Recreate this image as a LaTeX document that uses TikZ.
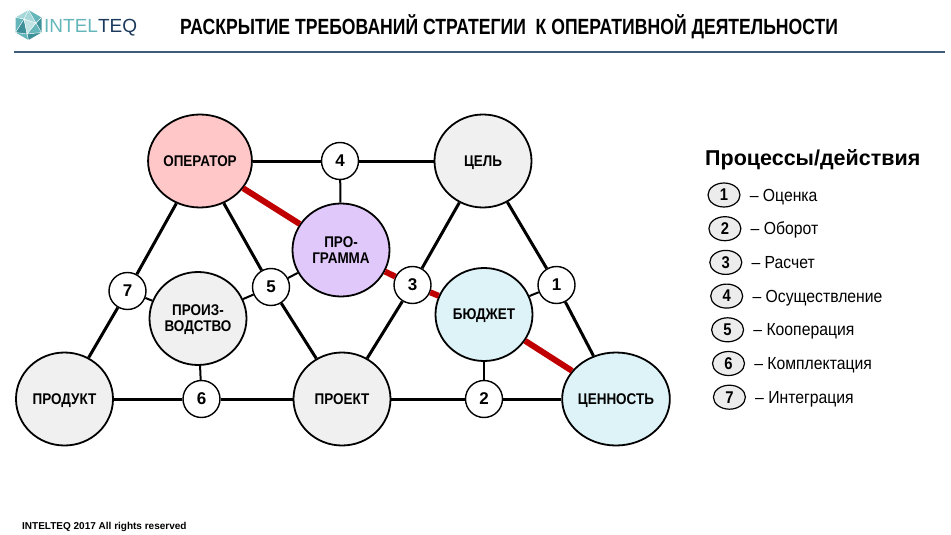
\documentclass[tikz,border=0pt]{standalone}
\usepackage{fontspec}
\setmainfont{Liberation Sans}
\newfontfamily\narrowfont[FakeStretch=0.87]{Liberation Sans}
\newfontfamily\titlefont[FakeStretch=0.8]{Liberation Sans}
\newfontfamily\keyfont[FakeStretch=0.9]{Liberation Sans}
\usetikzlibrary{shapes.geometric}

\definecolor{opcol}{RGB}{255,199,199}
\definecolor{progcol}{RGB}{224,201,250}
\definecolor{budcol}{RGB}{221,243,248}
\definecolor{graycol}{RGB}{240,240,240}
\definecolor{keycol}{RGB}{236,236,236}
\definecolor{redcol}{RGB}{192,0,0}
\definecolor{rulecol}{RGB}{62,92,122}
\definecolor{tealL}{RGB}{166,216,218}
\definecolor{tealM}{RGB}{100,182,186}
\definecolor{tealD}{RGB}{62,144,152}
\definecolor{navycol}{RGB}{28,58,92}

\tikzset{
  bignode/.style={ellipse, draw, line width=1.8pt, minimum width=97pt, minimum height=93pt, inner sep=0pt, align=center, text depth=0pt, font=\narrowfont\bfseries\fontsize{15.5}{16}\selectfont},
  numnode/.style={circle, draw, line width=1.4pt, fill=white, minimum size=37pt, inner sep=0pt, font=\bfseries\fontsize{17}{17}\selectfont},
  keynode/.style={ellipse, draw, line width=1.2pt, fill=keycol, minimum width=32pt, minimum height=24pt, inner sep=0pt, font=\narrowfont\bfseries\fontsize{17}{17}\selectfont},
  keytext/.style={anchor=base west, inner sep=0pt, font=\keyfont\fontsize{17.5}{17.5}\selectfont},
  edge/.style={line width=3pt},
  link/.style={line width=2pt},
  redline/.style={line width=6pt, redcol}
}

\begin{document}
\begin{tikzpicture}[x=1pt, y=-1pt]
    \useasboundingbox (0,0) rectangle (951,535);

    \coordinate (hT) at (28.5,10);
    \coordinate (hUR) at (41.5,17.5);
    \coordinate (hLR) at (41.5,32.5);
    \coordinate (hB) at (28.5,40);
    \coordinate (hLL) at (15.5,32.5);
    \coordinate (hUL) at (15.5,17.5);
    \coordinate (hP) at (24,19);
    \coordinate (hQ) at (36,23);
    \coordinate (hR) at (27,34);
    \fill[tealL] (hT) -- (hUL) -- (hP) -- cycle;
    \fill[tealL] (hT) -- (hP) -- (hQ) -- cycle;
    \fill[tealM] (hT) -- (hQ) -- (hUR) -- cycle;
    \fill[tealD] (hUR) -- (hQ) -- (hLR) -- cycle;
    \fill[tealM] (hLR) -- (hQ) -- (hR) -- cycle;
    \fill[tealD] (hLR) -- (hR) -- (hB) -- cycle;
    \fill[tealM] (hB) -- (hR) -- (hLL) -- cycle;
    \fill[tealD] (hLL) -- (hR) -- (hP) -- cycle;
    \fill[tealM] (hLL) -- (hP) -- (hUL) -- cycle;
    \fill[tealL!70!white] (hP) -- (hQ) -- (hR) -- cycle;
    \draw[white, line width=0.4pt] (hT) -- (hP) -- (hUL) (hP) -- (hQ) -- (hT) (hQ) -- (hUR) (hQ) -- (hLR) (hQ) -- (hR) -- (hLR) (hR) -- (hB) (hR) -- (hLL) (hR) -- (hP) -- (hLL);
    \node[anchor=base west, inner sep=0pt, font=\fontsize{19}{19}\selectfont] (logo) at (44,33) {\textcolor{tealM}{INTEL}\textcolor{navycol}{TEQ}};

    \node[anchor=base west, inner sep=0pt, font=\titlefont\bfseries\fontsize{22}{22}\selectfont] (title) at (180,35) {РАСКРЫТИЕ ТРЕБОВАНИЙ СТРАТЕГИИ\ \ К ОПЕРАТИВНОЙ ДЕЯТЕЛЬНОСТИ};
    \draw[rulecol, line width=2pt] (14,52) -- (945,52);

    \node[bignode, fill=opcol] (oper) at (200,161) {ОПЕРАТОР};
    \node[bignode, fill=graycol] (goal) at (483,161) {ЦЕЛЬ};
    \node[bignode, fill=progcol] (prog) at (341,250) {ПРО-\\ГРАММА};
    \node[bignode, fill=graycol] (prod) at (64.5,399) {ПРОДУКТ};
    \node[bignode, fill=graycol] (proizv) at (198,318.5) {ПРОИЗ-\\ВОДСТВО};
    \node[bignode, fill=graycol] (proj) at (342,399) {ПРОЕКТ};
    \node[bignode, fill=budcol] (bud) at (484,314.5) {БЮДЖЕТ};
    \node[bignode, fill=budcol] (value) at (616,399) {ЦЕННОСТЬ};

    \node[numnode] (s4) at (340,161) {4};
    \node[numnode] (s5) at (271,287) {5};
    \node[numnode] (s3) at (412.5,285) {3};
    \node[numnode] (s7) at (127.5,291) {7};
    \node[numnode] (s6) at (201.5,399) {6};
    \node[numnode] (s2) at (484,399) {2};
    \node[numnode] (s1) at (556.5,285) {1};

    \draw[edge] (oper) -- (s4) -- (goal);
    \draw[edge] (prod) -- (s7) -- (oper);
    \draw[edge] (oper) -- (s5) -- (proj);
    \draw[edge] (prod) -- (s6) -- (proj) -- (s2) -- (value);
    \draw[edge] (goal) -- (s3) -- (proj);
    \draw[edge] (goal) -- (s1) -- (value);

    \draw[link] (s4) -- (prog);
    \draw[link] (s5) -- (prog);
    \draw[link] (s7) -- (proizv);
    \draw[link] (s5) -- (proizv);
    \draw[link] (s6) -- (proizv);
    \draw[link] (s1) -- (bud);
    \draw[link] (s2) -- (bud);

    \draw[redline] (oper) -- (prog);
    \draw[redline] (prog) -- (s3);
    \draw[redline] (s3) -- (bud);
    \draw[redline] (bud) -- (value);

    \node[anchor=base west, inner sep=0pt, font=\bfseries\fontsize{21.5}{21.5}\selectfont] (keyhead) at (705,165) {Процессы/действия};
    \foreach \lbl [count=\i] in {Оценка, Оборот, Расчет, Осуществление, Кооперация, Комплектация, Интеграция}
    {
        \node[keynode] (k\i) at ({724+0.9*(\i-1)},{195+33.7*(\i-1)}) {\i};
        \node[keytext] (t\i) at ([xshift=9pt, yshift=-6pt]k\i.east) {– \lbl};
    }

    \node[anchor=base west, inner sep=0pt, font=\bfseries\fontsize{10}{10}\selectfont] (foot) at (22,529) {INTELTEQ 2017 All rights reserved};
\end{tikzpicture}
\end{document}
